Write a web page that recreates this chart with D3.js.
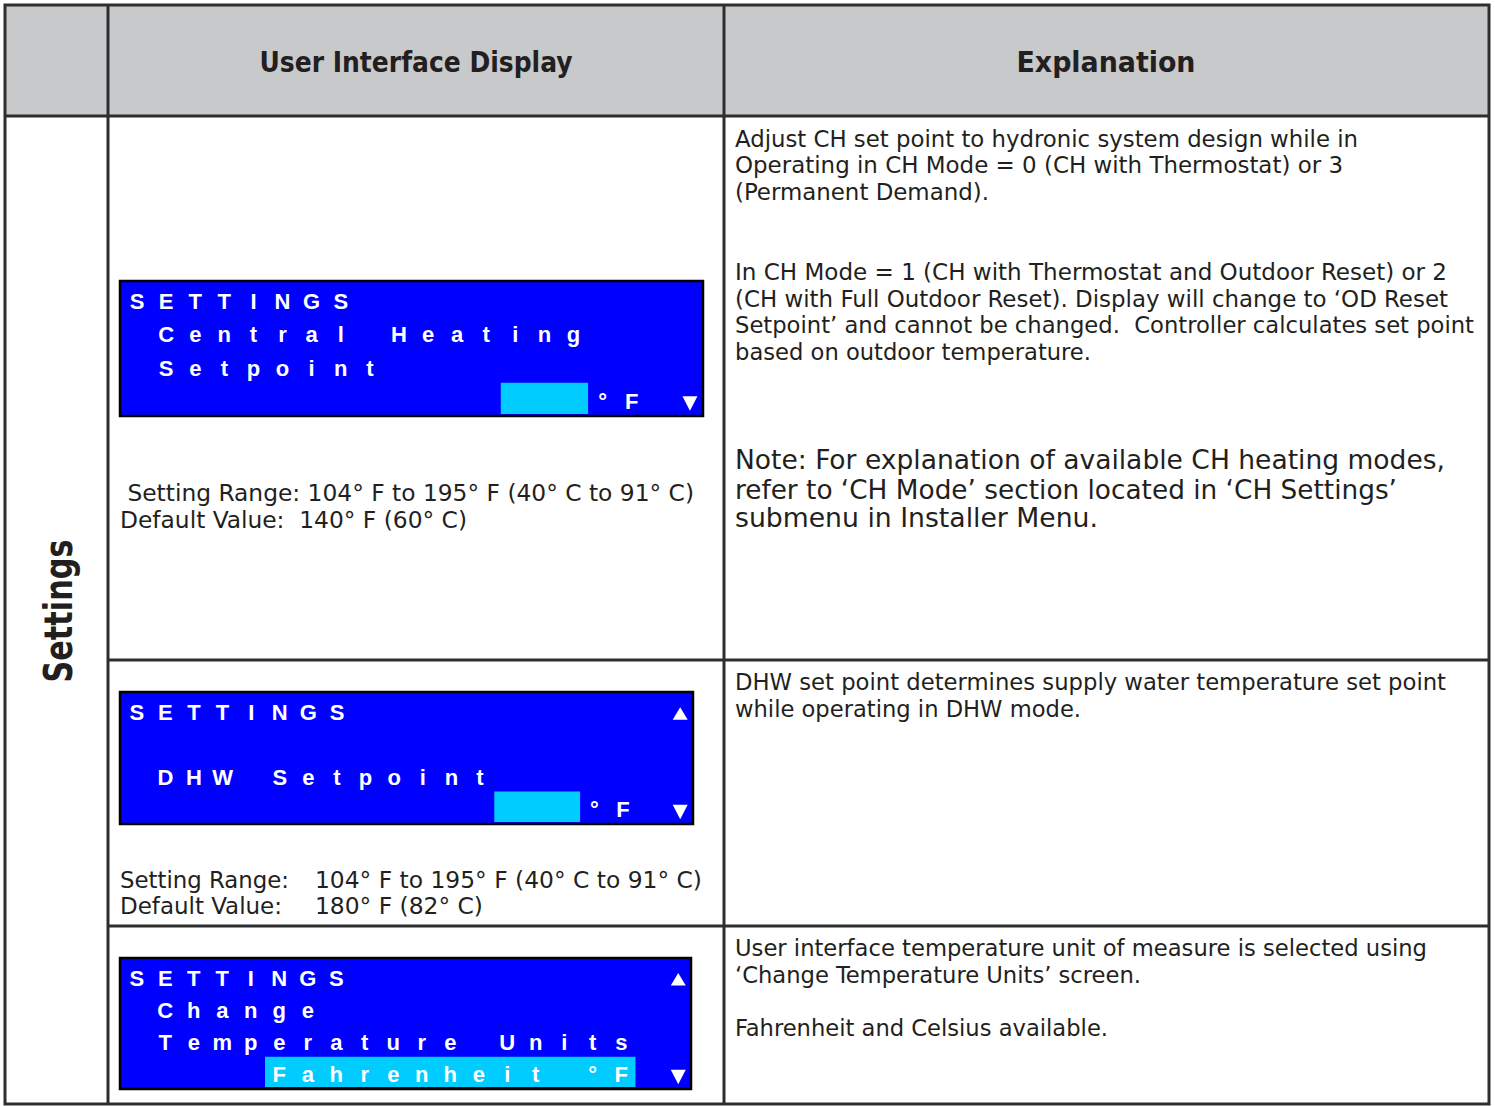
<!DOCTYPE html>
<html><head><meta charset="utf-8">
<script src="https://cdn.jsdelivr.net/npm/d3@7/dist/d3.min.js"></script>
<style>html,body{margin:0;padding:0;background:#fff}svg{display:block}</style>
</head><body>
<svg id="c" width="1495" height="1106"></svg>
<script>
// ---------- data ----------
const headers = ["", "User Interface Display", "Explanation"];
const sectionLabel = "Settings";
const lcdScreens = [
  ["SETTINGS", " Central Heating", " Setpoint", "                °F ▼"],
  ["SETTINGS           ▲", "", " DHW Setpoint", "                °F ▼"],
  ["SETTINGS           ▲", " Change", " Temperature Units", "     Fahrenheit °F ▼"]
];
const lcdCursor = [[3, 13, 3], [3, 13, 3], [3, 5, 13]]; // [line, first cell, cells]
const rangeNotes = [
  [[" Setting Range: 104° F to 195° F (40° C to 91° C)"], ["Default Value:  140° F (60° C)"]],
  [["Setting Range:", "104° F to 195° F (40° C to 91° C)"], ["Default Value:", "180° F (82° C)"]]
];
const explanations = [
  ["Adjust CH set point to hydronic system design while in",
   "Operating in CH Mode = 0 (CH with Thermostat) or 3",
   "(Permanent Demand).",
   "In CH Mode = 1 (CH with Thermostat and Outdoor Reset) or 2",
   "(CH with Full Outdoor Reset). Display will change to \u2018OD Reset",
   "Setpoint\u2019 and cannot be changed.  Controller calculates set point",
   "based on outdoor temperature.",
   "Note: For explanation of available CH heating modes,",
   "refer to \u2018CH Mode\u2019 section located in \u2018CH Settings\u2019",
   "submenu in Installer Menu."],
  ["DHW set point determines supply water temperature set point",
   "while operating in DHW mode."],
  ["User interface temperature unit of measure is selected using",
   "\u2018Change Temperature Units\u2019 screen.",
   "Fahrenheit and Celsius available."]
];

// ---------- layout ----------
const svg = d3.select("#c");
const FONT = "'DejaVu Sans Condensed','DejaVu Sans',Verdana,sans-serif";
const LCDFONT = "'Liberation Sans',Arial,sans-serif";
const lineCol = "#2e2e2e";
const X = {l: 5, c1: 108, c2: 724, r: 1489};
const Y = {t: 5, h: 116, r1: 660, r2: 926, b: 1104};

// header background
svg.append("rect").attr("x", X.l).attr("y", Y.t).attr("width", X.r - X.l).attr("height", Y.h - Y.t)
  .attr("fill", "#c8c9cb");

// header text
const headerPos = [null, {cx: 416, w: 313}, {cx: 1106, w: 179}];
headers.forEach((h, i) => {
  if (!h) return;
  svg.append("text").attr("x", headerPos[i].cx).attr("y", 72).attr("text-anchor", "middle")
    .attr("font-family", FONT).attr("font-weight", "bold").attr("font-size", 29).attr("fill", "#231f20")
    .attr("textLength", headerPos[i].w).attr("lengthAdjust", "spacingAndGlyphs").text(h);
});

// section label
svg.append("text").attr("transform", "translate(72,611) rotate(-90)").attr("text-anchor", "middle")
  .attr("font-family", FONT).attr("font-weight", "bold").attr("font-size", 39).attr("fill", "#231f20")
  .attr("textLength", 143).attr("lengthAdjust", "spacingAndGlyphs").text(sectionLabel);

// LCD panels
const panelBox = [
  {x: 120, y: 281, w: 583, h: 135, cw: 29.1},
  {x: 120, y: 692, w: 573, h: 132, cw: 28.6},
  {x: 120, y: 958, w: 571, h: 131, cw: 28.5}
];
lcdScreens.forEach((lines, p) => {
  const b = panelBox[p];
  const g = svg.append("g");
  g.append("rect").attr("x", b.x).attr("y", b.y).attr("width", b.w).attr("height", b.h)
    .attr("fill", "#0000ff").attr("stroke", "#000").attr("stroke-width", 2.5);
  const cx = d3.scaleBand().domain(d3.range(20)).range([b.x + 2.5, b.x + 2.5 + 20 * b.cw]);
  const cy = d3.scaleBand().domain(d3.range(4)).range([b.y + 1, b.y + b.h - 1]);
  const [cl, cs, cn] = lcdCursor[p];
  g.append("rect").attr("x", cx(cs)).attr("y", cy(cl) + 1)
    .attr("width", cx.bandwidth() * cn).attr("height", cy.bandwidth() - 2).attr("fill", "#00ccff");
  lines.forEach((ln, li) => {
    Array.from(ln).forEach((ch, ci) => {
      if (ch === " ") return;
      const x = cx(ci) + cx.bandwidth() / 2;
      const base = cy(li) + cy.bandwidth() / 2 + 10.4;
      if (ch === "▲" || ch === "▼") {
        const s = 7.5, top = base - 12.5, bot = base + (ch === "▼" ? 2 : 0);
        const pts = ch === "▲"
          ? [[x - s, bot], [x + s, bot], [x, top]]
          : [[x - s, top], [x + s, top], [x, bot]];
        g.append("path").attr("d", d3.line()(pts) + "Z").attr("fill", "#fff");
        return;
      }
      g.append("text").attr("x", x).attr("y", base).attr("text-anchor", "middle")
        .attr("font-family", LCDFONT).attr("font-weight", "bold").attr("font-size", 22)
        .attr("fill", "#fff").text(ch);
    });
  });
});

// setting range notes
const noteLayout = [
  {y: [501, 528], cols: [[{x: 120, w: 574}], [{x: 120, w: 347}]]},
  {y: [888, 914], cols: [[{x: 120, w: 169}, {x: 315, w: 387}], [{x: 120, w: 162}, {x: 315, w: 168}]]}
];
rangeNotes.forEach((blk, bi) => {
  blk.forEach((row, ri) => {
    row.forEach((txt, ci) => {
      const L = noteLayout[bi].cols[ri][ci];
      svg.append("text").attr("x", L.x).attr("y", noteLayout[bi].y[ri])
        .style("white-space", "pre")
        .attr("font-family", FONT).attr("font-size", 23).attr("fill", "#231f20")
        .attr("textLength", L.w).attr("lengthAdjust", "spacingAndGlyphs").text(txt);
    });
  });
});

// explanations
const explLayout = [
  [[147, 623, 23], [173, 608, 23], [200, 254, 23], [280, 712, 23], [307, 713, 23], [333, 739, 23], [360, 356, 23],
   [469, 710, 27], [499, 662, 27], [527, 363, 27]],
  [[690, 711, 23], [717, 346, 23]],
  [[956, 692, 23], [983, 406, 23], [1036, 373, 23]]
];
explanations.forEach((lines, bi) => {
  lines.forEach((txt, li) => {
    const [y, w, fs] = explLayout[bi][li];
    svg.append("text").attr("x", 735).attr("y", y).style("white-space", "pre")
      .attr("font-family", FONT).attr("font-size", fs).attr("fill", "#231f20")
      .attr("textLength", w).attr("lengthAdjust", "spacingAndGlyphs").text(txt);
  });
});

// grid lines
const seg = (x1, y1, x2, y2) => svg.append("line").attr("x1", x1).attr("y1", y1).attr("x2", x2).attr("y2", y2)
  .attr("stroke", lineCol).attr("stroke-width", 3);
seg(X.l, Y.h, X.r, Y.h);
seg(X.c1, Y.t, X.c1, Y.b);
seg(X.c2, Y.t, X.c2, Y.b);
seg(X.c1, Y.r1, X.r, Y.r1);
seg(X.c1, Y.r2, X.r, Y.r2);
svg.append("rect").attr("x", X.l).attr("y", Y.t).attr("width", X.r - X.l).attr("height", Y.b - Y.t)
  .attr("fill", "none").attr("stroke", lineCol).attr("stroke-width", 3);
</script>
</body></html>
